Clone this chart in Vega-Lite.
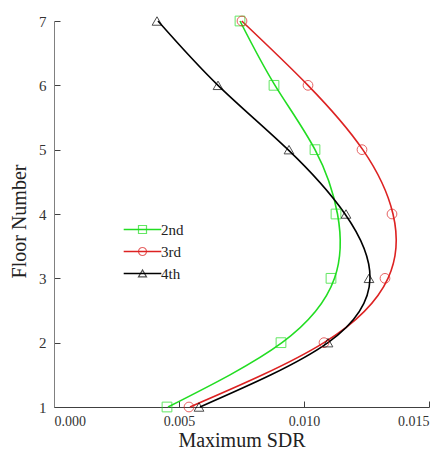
{
  "$schema": "https://vega.github.io/schema/vega-lite/v6.json",
  "width": 375,
  "height": 386,
  "autosize": {"type": "none"},
  "padding": {"left": 54, "top": 21, "right": 17, "bottom": 45},
  "background": "white",
  "config": {
    "view": {"stroke": null},
    "font": "Liberation Serif",
    "axis": {"grid": false, "domainColor": "#808080", "tickColor": "#404040", "labelColor": "#333333", "titleColor": "#222222", "labelFont": "Liberation Serif", "titleFont": "Liberation Serif", "titleFontWeight": "normal"},
    "legend": {"labelFont": "Liberation Serif"}
  },
  "datasets": {
    "points": [
      {"series": "2nd", "floor": 1, "sdr": 0.00452},
      {"series": "2nd", "floor": 2, "sdr": 0.00908},
      {"series": "2nd", "floor": 3, "sdr": 0.01108},
      {"series": "2nd", "floor": 4, "sdr": 0.01128},
      {"series": "2nd", "floor": 5, "sdr": 0.01044},
      {"series": "2nd", "floor": 6, "sdr": 0.0088},
      {"series": "2nd", "floor": 7, "sdr": 0.00744},
      {"series": "3rd", "floor": 1, "sdr": 0.0054},
      {"series": "3rd", "floor": 2, "sdr": 0.0108},
      {"series": "3rd", "floor": 3, "sdr": 0.01324},
      {"series": "3rd", "floor": 4, "sdr": 0.01352},
      {"series": "3rd", "floor": 5, "sdr": 0.01232},
      {"series": "3rd", "floor": 6, "sdr": 0.01016},
      {"series": "3rd", "floor": 7, "sdr": 0.00752},
      {"series": "4th", "floor": 1, "sdr": 0.0058},
      {"series": "4th", "floor": 2, "sdr": 0.01096},
      {"series": "4th", "floor": 3, "sdr": 0.0126},
      {"series": "4th", "floor": 4, "sdr": 0.01168},
      {"series": "4th", "floor": 5, "sdr": 0.0094},
      {"series": "4th", "floor": 6, "sdr": 0.00656},
      {"series": "4th", "floor": 7, "sdr": 0.00412}
    ],
    "curve": [
      {"series": "2nd", "floor": 1, "sdr": 0.00456},
      {"series": "2nd", "floor": 2, "sdr": 0.00912},
      {"series": "2nd", "floor": 3, "sdr": 0.01122},
      {"series": "2nd", "floor": 4, "sdr": 0.01134},
      {"series": "2nd", "floor": 5, "sdr": 0.01044},
      {"series": "2nd", "floor": 6, "sdr": 0.00884},
      {"series": "2nd", "floor": 7, "sdr": 0.00744},
      {"series": "3rd", "floor": 1, "sdr": 0.00544},
      {"series": "3rd", "floor": 2, "sdr": 0.0108},
      {"series": "3rd", "floor": 3, "sdr": 0.01336},
      {"series": "3rd", "floor": 4, "sdr": 0.01356},
      {"series": "3rd", "floor": 5, "sdr": 0.01235},
      {"series": "3rd", "floor": 6, "sdr": 0.01016},
      {"series": "3rd", "floor": 7, "sdr": 0.00751},
      {"series": "4th", "floor": 1, "sdr": 0.00584},
      {"series": "4th", "floor": 2, "sdr": 0.01096},
      {"series": "4th", "floor": 3, "sdr": 0.01264},
      {"series": "4th", "floor": 4, "sdr": 0.01164},
      {"series": "4th", "floor": 5, "sdr": 0.00936},
      {"series": "4th", "floor": 6, "sdr": 0.00656},
      {"series": "4th", "floor": 7, "sdr": 0.00416}
    ]
  },
  "encoding": {
    "x": {
      "field": "sdr", "type": "quantitative",
      "scale": {"domain": [0, 0.015], "nice": false, "zero": false},
      "axis": {"title": "Maximum SDR", "values": [0, 0.005, 0.01, 0.015], "format": ".3f", "tickSize": -6, "labelPadding": 13, "labelFontSize": 14, "titleFontSize": 20, "titlePadding": 2, "domainColor": "#404040"}
    },
    "y": {
      "field": "floor", "type": "quantitative",
      "scale": {"domain": [1, 7], "nice": false, "zero": false},
      "axis": {"title": "Floor Number", "values": [1, 2, 3, 4, 5, 6, 7], "format": "d", "tickSize": -6, "labelPadding": 14, "labelFontSize": 15, "titleFontSize": 20, "titlePadding": 9, "titleY": 200}
    }
  },
  "layer": [
    {
      "data": {"name": "curve"},
      "mark": {"type": "line", "interpolate": "natural", "strokeWidth": 1.6},
      "encoding": {
        "order": {"field": "floor", "type": "quantitative"},
        "stroke": {
          "field": "series", "type": "nominal",
          "scale": {"range": ["#22dd22", "#dd2222", "#000000"]},
          "legend": {"title": null, "orient": "none", "legendX": 81, "legendY": 201, "symbolType": "M-4.7,0H4.7", "symbolSize": 64, "symbolStrokeWidth": 1.6, "labelFontSize": 15, "labelOffset": 11, "rowPadding": 6, "padding": 0, "labelColor": "#222222"}
        }
      }
    },
    {
      "data": {"name": "points"},
      "mark": {"type": "point", "filled": false, "size": 95, "strokeWidth": 1},
      "encoding": {
        "color": {
          "field": "series", "type": "nominal",
          "scale": {"domain": ["2nd", "3rd", "4th"], "range": ["#22dd22", "#dd2222", "#000000"]},
          "legend": {"title": null, "orient": "none", "legendX": 81, "legendY": 201, "symbolSize": 64, "symbolStrokeWidth": 1.2, "labelFontSize": 15, "labelOffset": 11, "rowPadding": 6, "padding": 0, "labelOpacity": 0}
        },
        "shape": {
          "field": "series", "type": "nominal",
          "scale": {"domain": ["2nd", "3rd", "4th"], "range": ["square", "circle", "triangle-up"]},
          "legend": {"title": null, "orient": "none", "legendX": 81, "legendY": 201, "symbolSize": 64, "symbolStrokeWidth": 1.2, "labelFontSize": 15, "labelOffset": 11, "rowPadding": 6, "padding": 0, "labelOpacity": 0}
        }
      }
    }
  ]
}
